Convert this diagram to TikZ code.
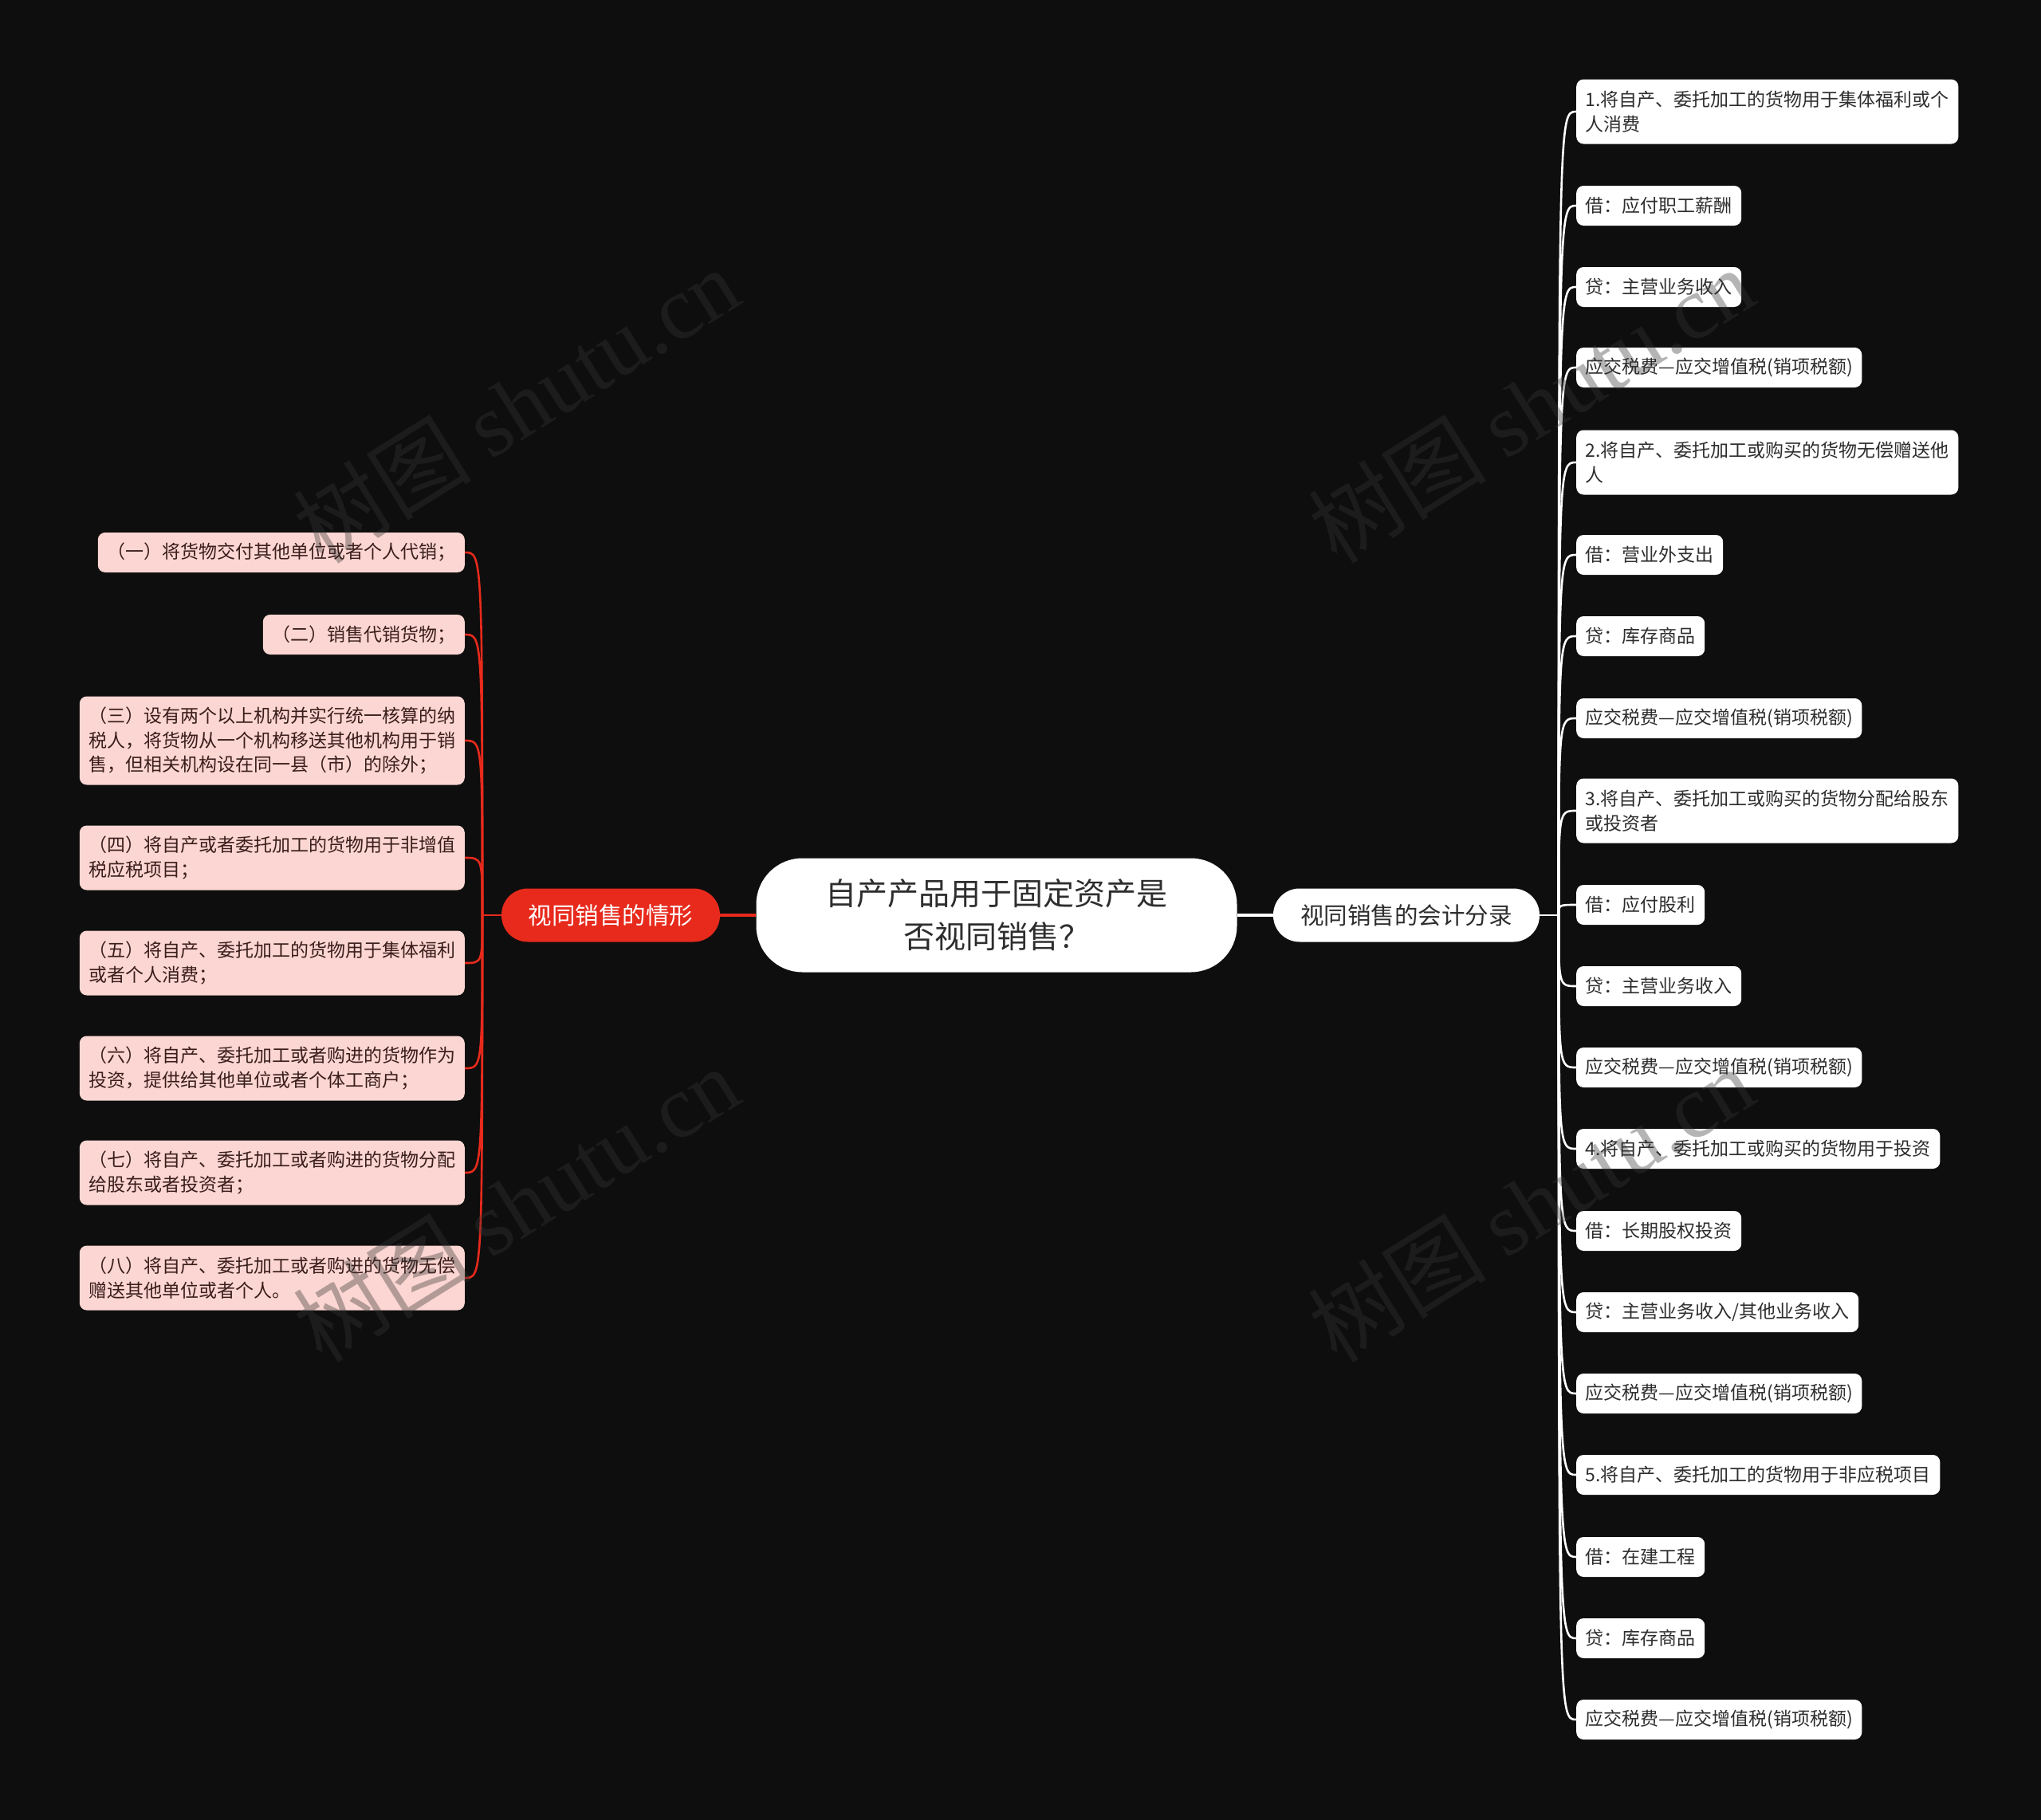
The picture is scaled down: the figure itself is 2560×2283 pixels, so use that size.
\documentclass[tikz,border=0pt]{standalone}
\usepackage{fontspec}
\setmainfont{Noto Sans CJK SC}
\newfontfamily\wmserif{Liberation Serif}
\definecolor{bgc}{HTML}{0E0E0E}
\definecolor{redc}{HTML}{E72A1C}
\definecolor{pinkc}{HTML}{FCD6D2}
\definecolor{darkt}{HTML}{2E2E2E}
\definecolor{maroont}{HTML}{3A1E1C}
\definecolor{wmc}{HTML}{343434}
\begin{document}
\begin{tikzpicture}[x=1pt,y=-1pt,
  rootbox/.style={fill=white,text=darkt,rounded corners=58pt,minimum width=603pt,minimum height=143pt,align=center,font=\fontsize{39}{54}\selectfont,inner sep=0pt},
  branchR/.style={fill=white,text=darkt,rounded corners=33pt,minimum width=334pt,minimum height=67pt,font=\fontsize{29.5}{34}\selectfont,inner sep=0pt},
  branchL/.style={fill=redc,text=white,rounded corners=33pt,minimum width=274pt,minimum height=67pt,font=\fontsize{29.5}{34}\selectfont,inner sep=0pt},
  leafR/.style={fill=white,text=darkt,rounded corners=9pt,inner xsep=11.5pt,inner ysep=3pt,minimum height=50pt,align=left,font=\fontsize{23}{30.5}\selectfont,anchor=west},
  leafL/.style={fill=pinkc,text=maroont,rounded corners=9pt,inner xsep=11.5pt,inner ysep=3pt,minimum height=50pt,align=left,font=\fontsize{23}{30.5}\selectfont,anchor=east},
  twol/.style={minimum height=81pt},
  threel/.style={minimum height=111pt},
  wline/.style={draw=white,line width=2.6pt},
  rline/.style={draw=redc,line width=2.6pt},
  wm/.style={text=wmc,text opacity=0.37,rotate=32,inner sep=0pt,font=\fontsize{112}{112}\selectfont}
]
\useasboundingbox (0,0) rectangle (2560,2283);
\fill[bgc] (0,0) rectangle (2560,2283);

% root and branches
\node[rootbox] (root) at (1250,1148) {自产产品用于固定资产是\\否视同销售？};
\node[branchR] (rb) at (1764,1148) {视同销售的会计分录};
\node[branchL] (lb) at (766,1148) {视同销售的情形};
\draw[draw=white,line width=3.6pt] (root.east) -- (rb.west);
\draw[draw=redc,line width=3.6pt] (root.west) -- (lb.east);

% left leaves
\node[leafL] (l1) at (583,693) {（一）将货物交付其他单位或者个人代销；};
\node[leafL] (l2) at (583,796) {（二）销售代销货物；};
\node[leafL,threel] (l3) at (583,929) {（三）设有两个以上机构并实行统一核算的纳\\税人，将货物从一个机构移送其他机构用于销\\售，但相关机构设在同一县（市）的除外；};
\node[leafL,twol] (l4) at (583,1076) {（四）将自产或者委托加工的货物用于非增值\\税应税项目；};
\node[leafL,twol] (l5) at (583,1208) {（五）将自产、委托加工的货物用于集体福利\\或者个人消费；};
\node[leafL,twol] (l6) at (583,1340) {（六）将自产、委托加工或者购进的货物作为\\投资，提供给其他单位或者个体工商户；};
\node[leafL,twol] (l7) at (583,1471) {（七）将自产、委托加工或者购进的货物分配\\给股东或者投资者；};
\node[leafL,twol] (l8) at (583,1603) {（八）将自产、委托加工或者购进的货物无偿\\赠送其他单位或者个人。};

% right leaves
\node[leafR,twol] (r1) at (1977,140) {1.将自产、委托加工的货物用于集体福利或个\\人消费};
\node[leafR] (r2) at (1977,258) {借：应付职工薪酬};
\node[leafR] (r3) at (1977,360) {贷：主营业务收入};
\node[leafR] (r4) at (1977,461) {应交税费—应交增值税(销项税额)};
\node[leafR,twol] (r5) at (1977,580) {2.将自产、委托加工或购买的货物无偿赠送他\\人};
\node[leafR] (r6) at (1977,696) {借：营业外支出};
\node[leafR] (r7) at (1977,798) {贷：库存商品};
\node[leafR] (r8) at (1977,901) {应交税费—应交增值税(销项税额)};
\node[leafR,twol] (r9) at (1977,1017) {3.将自产、委托加工或购买的货物分配给股东\\或投资者};
\node[leafR] (r10) at (1977,1135) {借：应付股利};
\node[leafR] (r11) at (1977,1237) {贷：主营业务收入};
\node[leafR] (r12) at (1977,1339) {应交税费—应交增值税(销项税额)};
\node[leafR] (r13) at (1977,1441) {4.将自产、委托加工或购买的货物用于投资};
\node[leafR] (r14) at (1977,1544) {借：长期股权投资};
\node[leafR] (r15) at (1977,1646) {贷：主营业务收入/其他业务收入};
\node[leafR] (r16) at (1977,1748) {应交税费—应交增值税(销项税额)};
\node[leafR] (r17) at (1977,1850) {5.将自产、委托加工的货物用于非应税项目};
\node[leafR] (r18) at (1977,1953) {借：在建工程};
\node[leafR] (r19) at (1977,2055) {贷：库存商品};
\node[leafR] (r20) at (1977,2157) {应交税费—应交增值税(销项税额)};

% spines
\coordinate (rs) at (1955,1148);
\coordinate (ls) at (605,1148);
\draw[wline] (rb.east) -- (rs);
\draw[rline] (lb.west) -- (ls);
\foreach \i in {1,...,20}
  \draw[wline] (rs) .. controls (rs |- r\i.west) and (rs |- r\i.west) .. (r\i.west);
\foreach \i in {1,...,8}
  \draw[rline] (ls) .. controls (ls |- l\i.east) and (ls |- l\i.east) .. (l\i.east);

% watermarks
\node[wm] (w1) at (647,508) {树图 {\wmserif shutu.cn}};
\node[wm] (w2) at (1920,508) {树图 {\wmserif shutu.cn}};
\node[wm] (w3) at (647,1510) {树图 {\wmserif shutu.cn}};
\node[wm] (w4) at (1920,1510) {树图 {\wmserif shutu.cn}};
\end{tikzpicture}
\end{document}
